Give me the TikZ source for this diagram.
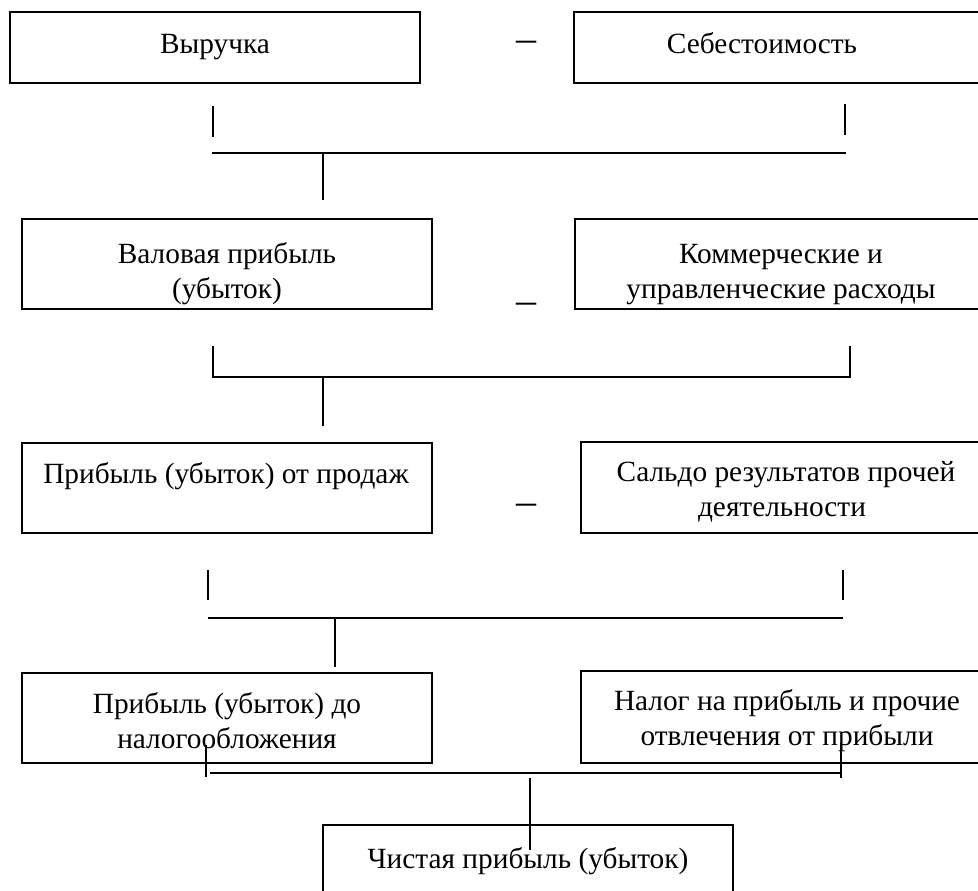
\documentclass[tikz,border=0pt]{standalone}
\usepackage{fontspec}
\setmainfont{Liberation Serif}
\usetikzlibrary{fit}
\begin{document}
\begin{tikzpicture}[x=0.75pt,y=-0.75pt,
  box/.style={draw, rectangle, inner sep=0pt, line width=0.8pt},
  thickbox/.style={box, line width=1.4pt},
  txt/.style={font=\fontsize{22}{26}\selectfont, inner sep=0pt, anchor=base},
  minus/.style={font=\fontsize{30}{36}\selectfont, inner sep=0pt, anchor=base},
  tick/.style={line width=0.8pt},
  bar/.style={line width=1.2pt},
  heavybar/.style={line width=1.6pt},
]
\useasboundingbox (0,0) rectangle (978,890);
\clip (0,0) rectangle (978,890);

% boxes
\node[box, fit={(10,12) (420,83)}] (b1) {};
\node[thickbox, fit={(574,12) (1000,83)}] (b2) {};
\node[box, fit={(22,219) (432,309)}] (b3) {};
\node[box, fit={(575,219) (1000,309)}] (b4) {};
\node[box, fit={(22,443) (432,533)}] (b5) {};
\node[thickbox, fit={(581,442) (1000,533)}] (b6) {};
\node[box, fit={(22,673) (432,763)}] (b7) {};
\node[thickbox, fit={(581,671) (1000,763)}] (b8) {};
\node[box, fit={(323,825) (733,905)}] (b9) {};

% texts
\node[txt] (t1) at (215,53) {Выручка};
\node[txt] (t2) at (762,53) {Себестоимость};
\node[txt] (t3a) at (227,263) {Валовая прибыль};
\node[txt] (t3b) at (227,298) {(убыток)};
\node[txt] (t4a) at (781,263) {Коммерческие и};
\node[txt] (t4b) at (781,298) {управленческие расходы};
\node[txt] (t5) at (226,483) {Прибыль (убыток) от продаж};
\node[txt] (t6a) at (786,481) {Сальдо результатов прочей};
\node[txt] (t6b) at (782,516) {деятельности};
\node[txt] (t7a) at (227,713) {Прибыль (убыток) до};
\node[txt] (t7b) at (227,748) {налогообложения};
\node[txt] (t8a) at (787,710) {Налог на прибыль и прочие};
\node[txt] (t8b) at (787,745) {отвлечения от прибыли};
\node[txt] (t9) at (528,868) {Чистая прибыль (убыток)};

% minus signs
\node[minus] (m1) at (526,51) {–};
\node[minus] (m2) at (526,313) {–};
\node[minus] (m3) at (526,514) {–};

% bracket 1
\coordinate (l1a) at (213,106); \coordinate (l1b) at (213,137);
\coordinate (r1a) at (845,104); \coordinate (r1b) at (845,135);
\coordinate (h1l) at (212,153); \coordinate (h1r) at (846,153);
\coordinate (s1a) at (323,153); \coordinate (s1b) at (323,200);
\draw[tick] (l1a) -- (l1b);
\draw[tick] (r1a) -- (r1b);
\draw[bar] (h1l) -- (h1r);
\draw[tick] (s1a) -- (s1b);

% bracket 2
\coordinate (l2a) at (213,346); \coordinate (l2b) at (213,377);
\coordinate (r2a) at (850,346); \coordinate (r2b) at (850,377);
\coordinate (s2a) at (323,377); \coordinate (s2b) at (323,426);
\draw[bar] (l2a) -- (l2b) -- (r2b) -- (r2a);
\draw[tick] (s2a) -- (s2b);

% bracket 3
\coordinate (l3a) at (208,570); \coordinate (l3b) at (208,600);
\coordinate (r3a) at (843,570); \coordinate (r3b) at (843,600);
\coordinate (h3l) at (208,618); \coordinate (h3r) at (843,618);
\coordinate (s3a) at (335,618); \coordinate (s3b) at (335,667);
\draw[tick] (l3a) -- (l3b);
\draw[tick] (r3a) -- (r3b);
\draw[bar] (h3l) -- (h3r);
\draw[tick] (s3a) -- (s3b);

% bracket 4
\coordinate (l4a) at (206,745); \coordinate (l4b) at (206,777);
\coordinate (r4a) at (841,743); \coordinate (r4b) at (841,778);
\coordinate (h4l) at (210,773); \coordinate (h4r) at (841,773);
\coordinate (s4a) at (530,778); \coordinate (s4b) at (530,850);
\draw[tick] (l4a) -- (l4b);
\draw[tick] (r4a) -- (r4b);
\draw[heavybar] (h4l) -- (h4r);
\draw[tick] (s4a) -- (s4b);
\end{tikzpicture}
\end{document}
